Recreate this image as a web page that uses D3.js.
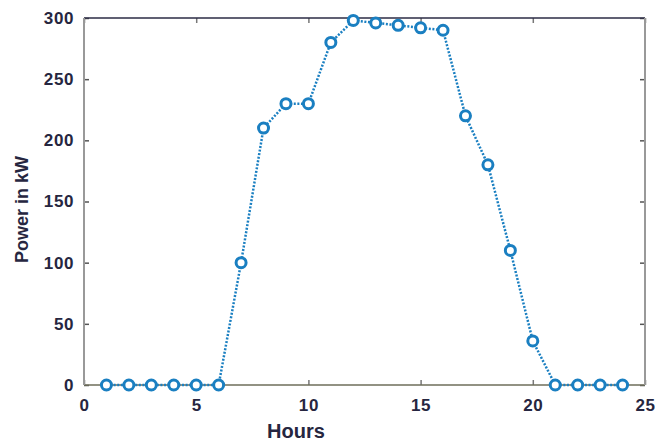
<!DOCTYPE html>
<html>
<head>
<meta charset="utf-8">
<script src="https://cdn.jsdelivr.net/npm/d3@7"></script>
<style>
  body { margin: 0; background: #fff; }
  text { font-family: "Liberation Sans", Arial, sans-serif; font-weight: bold; }
</style>
</head>
<body>
<script>
// hourly power output
const hours = [1, 2, 3, 4, 5, 6, 7, 8, 9, 10, 11, 12, 13, 14, 15, 16, 17, 18, 19, 20, 21, 22, 23, 24];
const power = [0, 0, 0, 0, 0, 0, 100, 210, 230, 230, 280, 298, 296, 294, 292, 290, 220, 180, 110, 36, 0, 0, 0, 0];
const xTicks = [0, 5, 10, 15, 20, 25];
const yTicks = [0, 50, 100, 150, 200, 250, 300];

const width = 655, height = 441;
const marginTop = 18, marginRight = 10, marginBottom = 56, marginLeft = 84;
const blue = "#1a7fc1";
const ink = "#262640";

const x = d3.scaleLinear().domain([0, 25]).range([marginLeft, width - marginRight]);
const y = d3.scaleLinear().domain([0, 300]).range([height - marginBottom, marginTop]);

const svg = d3.select("body").append("svg")
    .attr("width", width)
    .attr("height", height);

// ticks, inward like matlab
const tickLen = 5;
svg.append("g")
    .attr("transform", `translate(0,${y(0)})`)
    .call(d3.axisBottom(x).tickValues(xTicks).tickSizeInner(-tickLen).tickSizeOuter(0).tickPadding(14))
    .call(g => g.select(".domain").remove())
    .call(g => g.selectAll("line").attr("stroke", "#777").attr("stroke-width", 1.5))
    .call(g => g.selectAll("text").attr("fill", ink).attr("font-size", 17).attr("letter-spacing", 0.6));

svg.append("g")
    .attr("transform", `translate(0,${y(300)})`)
    .call(d3.axisTop(x).tickValues(xTicks).tickSizeInner(-tickLen).tickSizeOuter(0).tickFormat(""))
    .call(g => g.select(".domain").remove())
    .call(g => g.selectAll("line").attr("stroke", "#777").attr("stroke-width", 1.5));

svg.append("g")
    .attr("transform", `translate(${x(0)},0)`)
    .call(d3.axisLeft(y).tickValues(yTicks).tickSizeInner(-tickLen).tickSizeOuter(0).tickPadding(10))
    .call(g => g.select(".domain").remove())
    .call(g => g.selectAll("line").attr("stroke", "#555").attr("stroke-width", 1.5))
    .call(g => g.selectAll("text").attr("fill", ink).attr("font-size", 17).attr("letter-spacing", 0.6));

svg.append("g")
    .attr("transform", `translate(${x(25)},0)`)
    .call(d3.axisRight(y).tickValues(yTicks).tickSizeInner(-tickLen).tickSizeOuter(0).tickFormat(""))
    .call(g => g.select(".domain").remove())
    .call(g => g.selectAll("line").attr("stroke", "#555").attr("stroke-width", 1.5));

// box
svg.append("line").attr("x1", x(0)).attr("x2", x(25)).attr("y1", y(300)).attr("y2", y(300))
    .attr("stroke", "#2b2b45").attr("stroke-width", 1.5);
svg.append("line").attr("x1", x(0)).attr("x2", x(25)).attr("y1", y(0)).attr("y2", y(0))
    .attr("stroke", "#6e6e5a").attr("stroke-width", 1.5);
svg.append("line").attr("x1", x(0)).attr("x2", x(0)).attr("y1", y(0)).attr("y2", y(300))
    .attr("stroke", "#999").attr("stroke-width", 2);
svg.append("line").attr("x1", x(25)).attr("x2", x(25)).attr("y1", y(0)).attr("y2", y(300))
    .attr("stroke", "#999").attr("stroke-width", 2);

// series
const pts = hours.map((h, i) => ({ h, p: power[i] }));

svg.append("path")
    .datum(pts)
    .attr("fill", "none")
    .attr("stroke", blue)
    .attr("stroke-width", 2.5)
    .attr("stroke-dasharray", "2,1.6")
    .attr("d", d3.line().x(d => x(d.h)).y(d => y(d.p)));

svg.append("g")
    .selectAll("circle")
    .data(pts)
    .join("circle")
        .attr("cx", d => x(d.h))
        .attr("cy", d => y(d.p))
        .attr("r", 5)
        .attr("fill", "#fff")
        .attr("stroke", blue)
        .attr("stroke-width", 3);

// labels
svg.append("text")
    .attr("x", 296)
    .attr("y", 438)
    .attr("text-anchor", "middle")
    .attr("fill", ink)
    .attr("font-size", 20)
    .text("Hours");

svg.append("text")
    .attr("transform", `translate(28,${(y(0) + y(300)) / 2 + 8}) rotate(-90)`)
    .attr("text-anchor", "middle")
    .attr("fill", ink)
    .attr("font-size", 18)
    .text("Power in kW");
</script>
</body>
</html>
